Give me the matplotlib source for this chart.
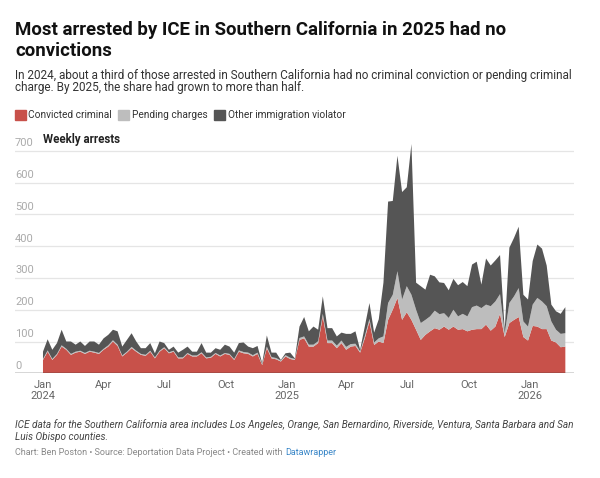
import numpy as np
import pandas as pd
import matplotlib
matplotlib.use("Agg")
import matplotlib.pyplot as plt
import matplotlib.dates as mdates
from matplotlib.patches import Rectangle

# --- data (weekly) ---
start_week = "2024-01-01"

total = [68, 107, 74, 95, 137, 100, 100, 90, 100, 86, 100, 100, 90, 110, 121, 137, 132, 84,
         105, 126, 100, 79, 79, 95, 63, 100, 95, 74, 84, 65, 74, 84, 68, 68, 95, 65, 65, 79,
         74, 90, 84, 65, 95, 97, 84, 79, 86, 32, 119, 65, 65, 42, 63,
         65, 47, 147, 177, 132, 147, 137, 242, 142, 142, 116, 128, 124, 124, 132, 74, 147,
         221, 128, 170, 285, 540, 542, 684, 570, 585, 721, 285, 274, 263, 310, 305, 286, 284,
         261, 297, 277, 287, 274, 342, 351, 279, 361, 339, 355, 372, 137, 395, 426, 461, 247,
         232, 353, 405, 392, 339, 216, 195, 187, 208]

convicted = [42, 68, 42, 58, 84, 74, 58, 65, 68, 61, 68, 65, 61, 74, 84, 100, 86, 53,
             65, 79, 68, 58, 55, 68, 47, 68, 79, 63, 68, 47, 47, 61, 53, 53, 63, 47, 49, 61,
             53, 61, 58, 42, 68, 63, 61, 53, 61, 26, 79, 47, 44, 37, 53,
             45, 42, 105, 110, 84, 84, 95, 179, 95, 95, 79, 95, 74, 84, 86, 65, 110,
             163, 89, 100, 95, 168, 200, 237, 168, 192, 168, 137, 105, 121, 132, 142, 137, 147,
             137, 147, 137, 139, 132, 137, 139, 139, 153, 134, 147, 187, 114, 158, 168, 177, 114,
             103, 149, 147, 139, 139, 103, 97, 82, 84]

pending = [3, 4, 3, 3, 4, 3, 3, 3, 3, 3, 3, 3, 3, 3, 4, 4, 4, 3,
           3, 4, 3, 3, 3, 3, 3, 3, 3, 3, 3, 3, 3, 3, 3, 3, 3, 3, 3, 3,
           3, 3, 3, 3, 4, 4, 4, 4, 4, 3, 5, 4, 4, 3, 4,
           4, 3, 6, 6, 6, 6, 6, 8, 8, 8, 8, 8, 9, 8, 7, 4, 7,
           8, 8, 10, 21, 53, 47, 84, 64, 82, 79, 63, 53, 47, 47, 55, 49, 42,
           37, 53, 42, 48, 47, 71, 74, 66, 63, 77, 79, 62, 12, 63, 74, 91, 49,
           44, 67, 90, 87, 72, 60, 40, 42, 42]

other = [t - c - p for t, c, p in zip(total, convicted, pending)]

labels = ["Convicted criminal", "Pending charges", "Other immigration violator"]
colors = ["#c8514a", "#bdbdbd", "#555555"]

weeks = pd.date_range(start_week, periods=len(total), freq="7D")

# --- figure ---
W, H = 600, 478
fig = plt.figure(figsize=(W / 100, H / 100), dpi=100)
plt.rcParams["font.family"] = ["Roboto", "DejaVu Sans"]


def fy(px):
    return 1 - px / H


def fx(px):
    return px / W


ax_left, ax_right = 15, 574
y0_px, px_per_unit = 373.3, 0.318
ymax = 735
ax_top = y0_px - ymax * px_per_unit
ax = fig.add_axes([fx(ax_left), fy(y0_px), fx(ax_right - ax_left), (y0_px - ax_top) / H])

ax.stackplot(weeks, convicted, pending, other, colors=colors, linewidth=0)

ax.set_xlim(pd.Timestamp("2023-11-20"), pd.Timestamp("2026-03-08"))
ax.set_ylim(0, ymax)

# gridlines and y labels inside plot
for v in range(0, 800, 100):
    if v > 0:
        ax.axhline(v, color="#e5e5e5", lw=0.9, zorder=0)
    ax.text(0.0, v + 8, str(v), transform=ax.get_yaxis_transform(), ha="left", va="bottom",
            fontsize=8.0, color="#aaaaaa")
ax.axhline(0, color="#333333", lw=1.0, zorder=5)

for s in ax.spines.values():
    s.set_visible(False)
ax.set_yticks([])
ax.set_facecolor("none")

ticks = [pd.Timestamp(d) for d in ["2024-01-01", "2024-04-01", "2024-07-01", "2024-10-01",
                                   "2025-01-01", "2025-04-01", "2025-07-01", "2025-10-01",
                                   "2026-01-01"]]
tick_labels = ["Jan\n2024", "Apr", "Jul", "Oct", "Jan\n2025", "Apr", "Jul", "Oct", "Jan\n2026"]
ax.set_xticks(ticks)
ax.set_xticklabels(tick_labels, fontsize=8.0, color="#666666", linespacing=1.1, va="top")
ax.tick_params(axis="x", length=0, pad=5)

ax.text(pd.Timestamp("2024-01-01"), (y0_px - 139.5) / px_per_unit, "Weekly arrests",
        fontsize=8.3, fontweight="bold", color="#222222", ha="left", va="center", clip_on=False)

# --- titles ---
fig.text(fx(15), fy(35), "Most arrested by ICE in Southern California in 2025 had no",
         fontsize=13.4, fontweight="bold", color="#111111", va="baseline")
fig.text(fx(15), fy(55.5), "convictions", fontsize=13.4, fontweight="bold", color="#111111",
         va="baseline")
fig.text(fx(15), fy(78.5),
         "In 2024, about a third of those arrested in Southern California had no criminal "
         "conviction or pending criminal",
         fontsize=8.5, color="#333333", va="baseline")
fig.text(fx(15), fy(91.5), "charge. By 2025, the share had grown to more than half.",
         fontsize=8.5, color="#333333", va="baseline")

# legend
leg_x = [15, 118, 214]
for x, lab, col in zip(leg_x, labels, colors):
    fig.patches.append(Rectangle((fx(x), fy(120)), fx(11), 10 / H, transform=fig.transFigure,
                                 color=col, figure=fig))
    fig.text(fx(x + 13.5), fy(115), lab, fontsize=7.3, color="#333333", va="center")

# footer
fig.text(fx(15), fy(428.5),
         "ICE data for the Southern California area includes Los Angeles, Orange, San Bernardino, "
         "Riverside, Ventura, Santa Barbara and San",
         fontsize=7.2, style="italic", color="#444444", va="baseline")
fig.text(fx(15), fy(440.5), "Luis Obispo counties.", fontsize=7.2, style="italic",
         color="#444444", va="baseline")
credit = "Chart: Ben Poston \u2022 Source: Deportation Data Project \u2022 Created with "
t = fig.text(fx(15), fy(455), credit, fontsize=6.5, color="#888888", va="baseline")
fig.canvas.draw()
bb = t.get_window_extent()
fig.text(bb.x1 / W, fy(455), "Datawrapper", fontsize=6.5, color="#3a87c8", va="baseline")

fig.savefig("out.png", dpi=100)
